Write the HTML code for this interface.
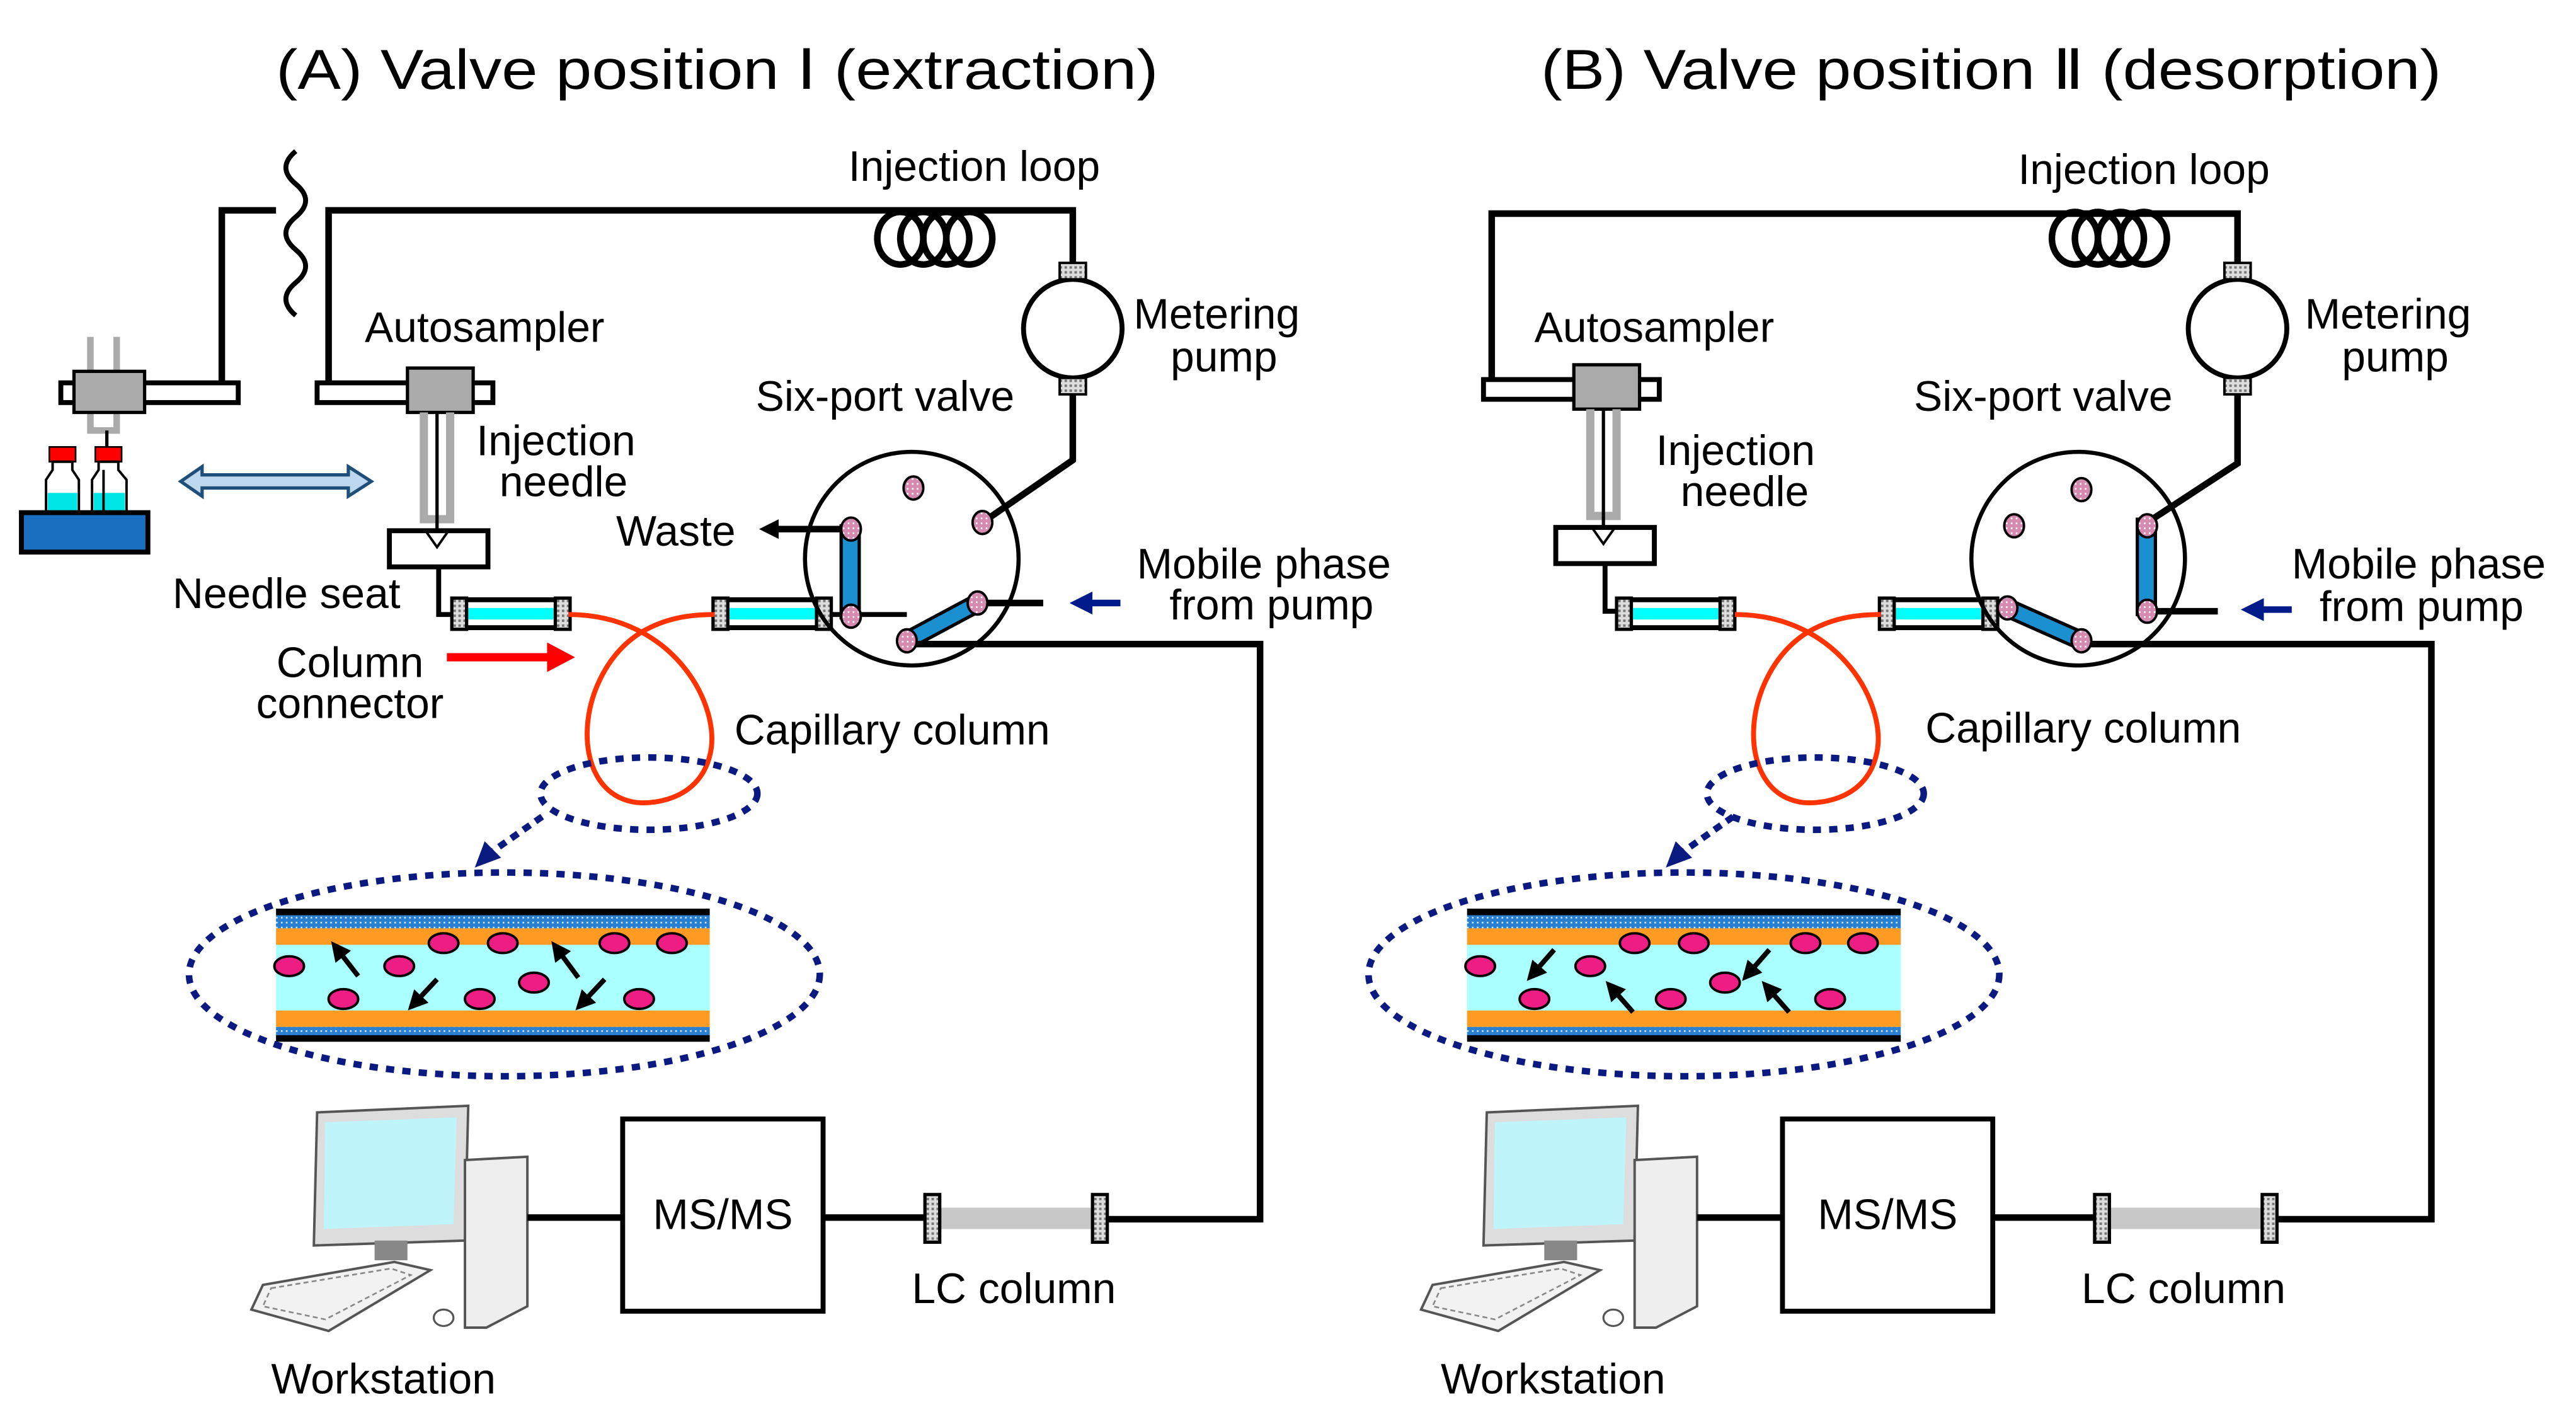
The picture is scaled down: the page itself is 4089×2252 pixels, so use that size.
<!DOCTYPE html>
<html><head><meta charset="utf-8"><style>
html,body{margin:0;padding:0;background:#fff}
svg{display:block}
text{font-family:"Liberation Sans",sans-serif;fill:#000}
</style></head><body>
<svg width="4089" height="2252" viewBox="0 0 1568 863.6" xmlns="http://www.w3.org/2000/svg">
<defs>
<pattern id="hatch" width="3" height="3" patternUnits="userSpaceOnUse"><rect width="3" height="3" fill="#ddd"/><rect width="1.5" height="1.5" fill="#777"/></pattern>
<pattern id="dots" width="3" height="3" patternUnits="userSpaceOnUse"><rect width="3" height="3" fill="#2a7fd0"/><rect width="1" height="1" fill="#cfe6ff"/></pattern>
<pattern id="pdot" width="3" height="3" patternUnits="userSpaceOnUse"><rect width="3" height="3" fill="#d58ab0"/><rect width="1" height="1" fill="#fff"/></pattern>
<marker id="ah" markerWidth="12" markerHeight="12" refX="8" refY="6" orient="auto" markerUnits="userSpaceOnUse"><path d="M0,0 L12,6 L0,12 z" fill="#000"/></marker>
<marker id="ahn" markerWidth="14" markerHeight="14" refX="10" refY="7" orient="auto" markerUnits="userSpaceOnUse"><path d="M0,0 L14,7 L0,14 z" fill="#001a8a"/></marker>

<g id="cap">
 <rect x="0" y="0" width="70" height="17" fill="#fff" stroke="#000" stroke-width="3"/>
 <rect x="9" y="5" width="52" height="7" fill="#00ffff"/>
 <rect x="-1" y="-1" width="9" height="19" fill="url(#hatch)" stroke="#000" stroke-width="2"/>
 <rect x="62" y="-1" width="9" height="19" fill="url(#hatch)" stroke="#000" stroke-width="2"/>
</g>
<g id="autos">
 <rect x="193" y="233" width="107" height="12" fill="#fff" stroke="#000" stroke-width="3"/>
 <rect x="248" y="224" width="40" height="27" fill="#aaa" stroke="#000" stroke-width="2"/>
 <path d="M258,251 V316 H274 V251" fill="none" stroke="#aaa" stroke-width="5"/>
 <line x1="266" y1="251" x2="266" y2="316" stroke="#000" stroke-width="2"/>
 <line x1="266" y1="316" x2="266" y2="323" stroke="#000" stroke-width="2"/>
 <rect x="237" y="323" width="60" height="22" fill="#fff" stroke="#000" stroke-width="3"/>
 <path d="M259,323 L266,333 L273,323" fill="none" stroke="#000" stroke-width="1.5"/>
 <path d="M267,345 V374 H276" fill="none" stroke="#000" stroke-width="3"/>
</g>
<g id="pump">
 <circle cx="653" cy="200" r="30" fill="#fff" stroke="#000" stroke-width="3"/>
 <rect x="645" y="160" width="16" height="10" fill="url(#hatch)" stroke="#000" stroke-width="1.5"/>
 <rect x="645" y="230" width="16" height="10" fill="url(#hatch)" stroke="#000" stroke-width="1.5"/>
</g>
<g id="coil" fill="none" stroke="#000" stroke-width="4">
 <ellipse cx="548" cy="145" rx="14" ry="16"/><ellipse cx="562" cy="145" rx="14" ry="16"/><ellipse cx="576" cy="145" rx="14" ry="16"/><ellipse cx="590" cy="145" rx="14" ry="16"/>
</g>
<g id="bigcol">
 <rect x="168" y="553" width="264" height="80" fill="#aaffff"/>
 <rect x="168" y="553" width="264" height="4" fill="#000"/>
 <rect x="168" y="557" width="264" height="8" fill="url(#dots)"/>
 <rect x="168" y="565" width="264" height="10" fill="#ff9a22"/>
 <rect x="168" y="615" width="264" height="10" fill="#ff9a22"/>
 <rect x="168" y="625" width="264" height="6" fill="url(#dots)"/>
 <rect x="168" y="630" width="264" height="4" fill="#000"/>
 <g fill="#ee1d84" stroke="#000" stroke-width="1.5">
  <ellipse cx="176" cy="588" rx="9" ry="6"/><ellipse cx="209" cy="608" rx="9" ry="6"/><ellipse cx="243" cy="588" rx="9" ry="6"/>
  <ellipse cx="270" cy="574" rx="9" ry="6"/><ellipse cx="292" cy="608" rx="9" ry="6"/><ellipse cx="306" cy="574" rx="9" ry="6"/>
  <ellipse cx="325" cy="598" rx="9" ry="6"/><ellipse cx="374" cy="574" rx="9" ry="6"/><ellipse cx="389" cy="608" rx="9" ry="6"/><ellipse cx="409" cy="574" rx="9" ry="6"/>
 </g>
</g>
<g id="bigell">
 <ellipse cx="307" cy="593" rx="192" ry="62" fill="none" stroke="#0a1a80" stroke-width="4" stroke-dasharray="5,5"/>
</g>
<g id="computer">
 <path d="M193,677 L285,673 L283,755 L191,758 z" fill="#ddd" stroke="#555" stroke-width="1.5"/>
 <path d="M198,683 L278,680 L276,745 L197,748 z" fill="#bff4fb"/>
 <rect x="228" y="755" width="20" height="12" fill="#888"/>
 <path d="M283,706 L321,704 L321,795 L296,808 L283,808 z" fill="#eee" stroke="#555" stroke-width="1.5"/>
 <path d="M160,782 L240,768 L262,773 L200,810 L153,797 z" fill="#f2f2f2" stroke="#555" stroke-width="1.5"/>
 <path d="M165,784 L238,772 L250,776 L198,803 L160,795 z" fill="none" stroke="#888" stroke-width="1" stroke-dasharray="3,2"/>
 <ellipse cx="270" cy="802" rx="6" ry="5" fill="#fff" stroke="#555" stroke-width="1.2"/>
</g>
</defs>

<!-- Titles -->
<text x="168" y="54" font-size="34" textLength="537" lengthAdjust="spacingAndGlyphs">(A) Valve position  Ⅰ  (extraction)</text>
<text x="938" y="54" font-size="34" textLength="548" lengthAdjust="spacingAndGlyphs">(B) Valve position  Ⅱ  (desorption)</text>

<!-- ===== Panel A ===== -->
<path d="M180,92 q-12,10 0,20 q12,10 0,20 q-12,10 0,20 q12,10 0,20 q-12,10 0,20" fill="none" stroke="#000" stroke-width="3"/>
<path d="M168,128 H135 V238" fill="none" stroke="#000" stroke-width="4"/>
<path d="M200,238 V128 H653 V160" fill="none" stroke="#000" stroke-width="4"/>
<use href="#coil"/>
<path d="M653,240 V280 L598,318" fill="none" stroke="#000" stroke-width="4"/>
<use href="#pump"/>
<!-- left vial unit -->
<path d="M55,226 V205 M71,226 V205 M55,250 V262 H71 V250" fill="none" stroke="#aaa" stroke-width="4"/>
<rect x="37" y="233" width="108" height="12" fill="#fff" stroke="#000" stroke-width="3"/>
<rect x="45" y="226" width="43" height="25" fill="#aaa" stroke="#000" stroke-width="2"/>
<line x1="65" y1="262" x2="65" y2="272" stroke="#000" stroke-width="2"/>
<rect x="30" y="272" width="16" height="9" fill="red" stroke="#000"/><rect x="58" y="272" width="16" height="9" fill="red" stroke="#000"/>
<path d="M32,281 V286 L28,292 V312 H48 V292 L44,286 V281z" fill="#fff" stroke="#000" stroke-width="1.5"/>
<rect x="29" y="300" width="18" height="12" fill="#00e5e5"/>
<path d="M60,281 V286 L56,292 V312 H77 V292 L72,286 V281z" fill="#fff" stroke="#000" stroke-width="1.5"/>
<rect x="57" y="300" width="19" height="12" fill="#00e5e5"/>
<line x1="63" y1="286" x2="63" y2="312" stroke="#000" stroke-width="1.5"/>
<rect x="13" y="312" width="77" height="24" fill="#1a6fc0" stroke="#000" stroke-width="3"/>
<path d="M110,293 L123,284 V289 H212 V284 L226,293 L212,302 V297 H123 V302 z" fill="#bdd7ee" stroke="#1f4e79" stroke-width="2"/>
<use href="#autos"/>
<use href="#cap" x="276" y="365"/>
<use href="#cap" x="435" y="365"/>
<path d="M346,374 C410,374 440,430 432,460 C425,488 395,490 385,488 C345,480 350,410 390,385 C405,376 420,374 435,374" fill="none" stroke="#ff3300" stroke-width="3"/>
<!-- valve A -->
<circle cx="555" cy="340" r="65" fill="none" stroke="#000" stroke-width="2.5"/>
<path d="M505,374 H552" stroke="#000" stroke-width="3"/>
<rect x="512" y="320" width="11" height="56" fill="#1a90d0" stroke="#000" stroke-width="2"/>
<path d="M552,390 L595,367" stroke="#000" stroke-width="12"/>
<path d="M552,390 L595,367" stroke="#1a90d0" stroke-width="8"/>
<path d="M555,392 H767 V742 H670" fill="none" stroke="#000" stroke-width="4"/>
<path d="M598,367 H635" stroke="#000" stroke-width="4"/>
<path d="M512,322 H466" stroke="#000" stroke-width="4" marker-end="url(#ah)"/>
<path d="M682,367 H655" stroke="#001a8a" stroke-width="4" marker-end="url(#ahn)"/>
<g fill="url(#pdot)" stroke="#000" stroke-width="1.5">
<ellipse cx="556" cy="297" rx="6" ry="7"/><ellipse cx="598" cy="318" rx="6" ry="7"/><ellipse cx="518" cy="322" rx="6" ry="7"/><ellipse cx="518" cy="375" rx="6" ry="7"/><ellipse cx="595" cy="367" rx="6" ry="7"/><ellipse cx="552" cy="390" rx="6" ry="7"/>
</g>
<path d="M272,400 H335" stroke="red" stroke-width="5"/>
<path d="M333,391 L350,400 L333,409 z" fill="red"/>
<ellipse cx="395" cy="483" rx="66" ry="22" fill="none" stroke="#0a1a80" stroke-width="4" stroke-dasharray="5,5"/>
<path d="M330,497 L300,518" stroke="#0a1a80" stroke-width="4" stroke-dasharray="5,4"/>
<path d="M289,528 L295,512 L305,522 z" fill="#0a1a80"/>
<use href="#bigcol"/>
<use href="#bigell"/>
<g stroke="#000" stroke-width="3" marker-end="url(#ah)">
<path d="M218,594 L204,576"/><path d="M266,596 L251,612"/><path d="M352,595 L338,576"/><path d="M368,596 L353,612"/>
</g>
<use href="#computer"/>
<path d="M321,741 H378 M501,741 H565" stroke="#000" stroke-width="4"/>
<rect x="379" y="681" width="122" height="117" fill="#fff" stroke="#000" stroke-width="3"/>
<rect x="570" y="735" width="97" height="13" fill="#c8c8c8"/>
<rect x="563" y="727" width="9" height="29" fill="url(#hatch)" stroke="#000" stroke-width="2"/>
<rect x="665" y="727" width="9" height="29" fill="url(#hatch)" stroke="#000" stroke-width="2"/>

<g font-size="26">
<text x="593" y="110" text-anchor="middle">Injection loop</text>
<text x="690" y="200">Metering</text>
<text x="745" y="226" text-anchor="middle">pump</text>
<text x="222" y="208">Autosampler</text>
<text x="460" y="250">Six-port valve</text>
<text x="290" y="277">Injection</text>
<text x="343" y="302" text-anchor="middle">needle</text>
<text x="375" y="332">Waste</text>
<text x="105" y="370">Needle seat</text>
<text x="213" y="412" text-anchor="middle">Column</text>
<text x="213" y="437" text-anchor="middle">connector</text>
<text x="692" y="352">Mobile phase</text>
<text x="774" y="377" text-anchor="middle">from pump</text>
<text x="447" y="453">Capillary column</text>
<text x="555" y="793">LC column</text>
<text x="165" y="848">Workstation</text>
<text x="440" y="748" text-anchor="middle">MS/MS</text>
</g>

<!-- ===== Panel B ===== -->
<path d="M908,238 V130 H1362 V160" fill="none" stroke="#000" stroke-width="4"/>
<use href="#coil" x="715"/>
<path d="M1362,240 V282 L1307,318" fill="none" stroke="#000" stroke-width="4"/>
<use href="#pump" x="709"/>
<use href="#autos" x="710" y="-2"/>
<use href="#cap" x="985" y="365"/>
<use href="#cap" x="1145" y="365"/>
<path d="M1056,374 C1120,374 1150,430 1142,460 C1135,488 1105,490 1095,488 C1055,480 1060,410 1100,385 C1115,376 1130,374 1145,374" fill="none" stroke="#ff3300" stroke-width="3"/>
<circle cx="1265" cy="340" r="65" fill="none" stroke="#000" stroke-width="2.5"/>
<path d="M1215,372 H1222" stroke="#000" stroke-width="3"/>
<rect x="1301" y="316" width="11" height="58" fill="#1a90d0" stroke="#000" stroke-width="2"/>
<path d="M1222,370 L1267,390" stroke="#000" stroke-width="12"/>
<path d="M1222,370 L1267,390" stroke="#1a90d0" stroke-width="8"/>
<path d="M1270,392 H1480 V742 H1382" fill="none" stroke="#000" stroke-width="4"/>
<path d="M1310,372 H1350" stroke="#000" stroke-width="4"/>
<path d="M1395,371 H1368" stroke="#001a8a" stroke-width="4" marker-end="url(#ahn)"/>
<g fill="url(#pdot)" stroke="#000" stroke-width="1.5">
<ellipse cx="1267" cy="298" rx="6" ry="7"/><ellipse cx="1226" cy="320" rx="6" ry="7"/><ellipse cx="1307" cy="320" rx="6" ry="7"/><ellipse cx="1307" cy="372" rx="6" ry="7"/><ellipse cx="1222" cy="370" rx="6" ry="7"/><ellipse cx="1267" cy="390" rx="6" ry="7"/>
</g>
<ellipse cx="1105" cy="483" rx="66" ry="22" fill="none" stroke="#0a1a80" stroke-width="4" stroke-dasharray="5,5"/>
<path d="M1055,497 L1025,518" stroke="#0a1a80" stroke-width="4" stroke-dasharray="5,4"/>
<path d="M1014,528 L1020,512 L1030,522 z" fill="#0a1a80"/>
<use href="#bigcol" x="725"/>
<use href="#bigell" x="718"/>
<g stroke="#000" stroke-width="3" marker-end="url(#ah)">
<path d="M946,578 L932,594"/><path d="M994,616 L980,600"/><path d="M1077,578 L1063,594"/><path d="M1089,616 L1075,600"/>
</g>
<use href="#computer" x="712"/>
<path d="M1033,741 H1085 M1213,741 H1277" stroke="#000" stroke-width="4"/>
<rect x="1085" y="681" width="128" height="117" fill="#fff" stroke="#000" stroke-width="3"/>
<rect x="1282" y="735" width="97" height="13" fill="#c8c8c8"/>
<rect x="1275" y="727" width="9" height="29" fill="url(#hatch)" stroke="#000" stroke-width="2"/>
<rect x="1377" y="727" width="9" height="29" fill="url(#hatch)" stroke="#000" stroke-width="2"/>

<g font-size="26">
<text x="1305" y="112" text-anchor="middle">Injection loop</text>
<text x="1403" y="200">Metering</text>
<text x="1458" y="226" text-anchor="middle">pump</text>
<text x="934" y="208">Autosampler</text>
<text x="1165" y="250">Six-port valve</text>
<text x="1008" y="283">Injection</text>
<text x="1062" y="308" text-anchor="middle">needle</text>
<text x="1395" y="352">Mobile phase</text>
<text x="1474" y="378" text-anchor="middle">from pump</text>
<text x="1172" y="452">Capillary column</text>
<text x="1267" y="793">LC column</text>
<text x="877" y="848">Workstation</text>
<text x="1149" y="748" text-anchor="middle">MS/MS</text>
</g>
</svg>
</body></html>
